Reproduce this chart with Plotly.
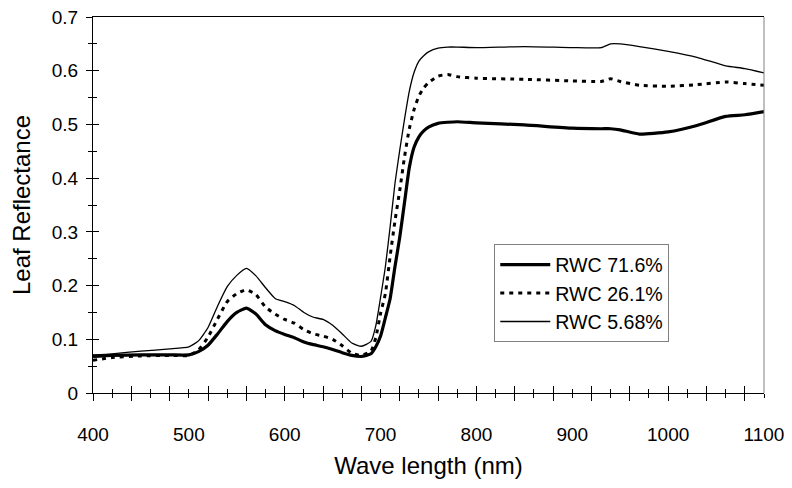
import plotly.graph_objects as go

wavelength = [400, 420, 450, 480, 500, 510, 520, 530, 540, 550, 560, 570, 580, 590, 600,
              610, 620, 630, 640, 650, 660, 670, 680, 690, 695, 700, 705, 710, 715, 720,
              725, 730, 735, 740, 745, 750, 760, 770, 780, 800, 850, 900, 930, 940, 950,
              970, 1000, 1030, 1060, 1080, 1100]

rwc_71_6 = [0.068, 0.070, 0.071, 0.071, 0.071, 0.077, 0.089, 0.110, 0.133, 0.150, 0.158,
            0.147, 0.127, 0.116, 0.109, 0.103, 0.095, 0.090, 0.086, 0.081, 0.075, 0.070,
            0.068, 0.073, 0.086, 0.106, 0.140, 0.176, 0.235, 0.290, 0.355, 0.420, 0.458,
            0.477, 0.488, 0.495, 0.502, 0.504, 0.505, 0.503, 0.499, 0.493, 0.492, 0.492,
            0.490, 0.482, 0.486, 0.498, 0.515, 0.518, 0.524]

rwc_26_1 = [0.061, 0.066, 0.069, 0.070, 0.070, 0.080, 0.104, 0.138, 0.170, 0.185, 0.192,
            0.183, 0.160, 0.147, 0.137, 0.130, 0.118, 0.110, 0.106, 0.100, 0.088, 0.074,
            0.070, 0.078, 0.103, 0.148, 0.185, 0.255, 0.320, 0.377, 0.440, 0.492, 0.528,
            0.553, 0.568, 0.578, 0.590, 0.593, 0.589, 0.586, 0.584, 0.581, 0.580, 0.585,
            0.580, 0.573, 0.571, 0.574, 0.579, 0.576, 0.573]

rwc_5_68 = [0.071, 0.073, 0.078, 0.082, 0.086, 0.097, 0.122, 0.162, 0.198, 0.219, 0.232,
            0.218, 0.196, 0.176, 0.170, 0.163, 0.150, 0.141, 0.137, 0.126, 0.110, 0.093,
            0.087, 0.096, 0.125, 0.178, 0.235, 0.310, 0.390, 0.452, 0.510, 0.562, 0.597,
            0.618, 0.628, 0.635, 0.642, 0.644, 0.644, 0.643, 0.645, 0.643, 0.643, 0.650,
            0.650, 0.645, 0.636, 0.625, 0.609, 0.604, 0.596]

series_names = ["RWC 71.6%", "RWC 26.1%", "RWC 5.68%"]

x_label_vals = list(range(400, 1101, 100))
x_long_ticks = list(range(400, 1101, 40))
x_short_ticks = list(range(420, 1101, 40))
y_label_vals = [0, 0.1, 0.2, 0.3, 0.4, 0.5, 0.6, 0.7]
y_label_text = ["0", "0.1", "0.2", "0.3", "0.4", "0.5", "0.6", "0.7"]
y_minor_vals = [0.05, 0.15, 0.25, 0.35, 0.45, 0.55, 0.65]

fig = go.Figure()
fig.add_trace(go.Scatter(x=wavelength, y=rwc_71_6, name=series_names[0], mode="lines",
                         line=dict(color="black", width=3.2, shape="spline", smoothing=0.5)))
fig.add_trace(go.Scatter(x=wavelength, y=rwc_26_1, name=series_names[1], mode="lines",
                         line=dict(color="black", width=3, dash="4px,5px", shape="spline", smoothing=0.5)))
fig.add_trace(go.Scatter(x=wavelength, y=rwc_5_68, name=series_names[2], mode="lines",
                         line=dict(color="black", width=1.3, shape="spline", smoothing=0.5)))

# empty helper traces so the overlaid tick-only axes get rendered (crossing ticks)
for xa, ya in [("x2", "y"), ("x3", "y"), ("x", "y2")]:
    fig.add_trace(go.Scatter(x=[], y=[], xaxis=xa, yaxis=ya, showlegend=False,
                             hoverinfo="skip", mode="lines"))

font_family = "Liberation Sans, Arial, sans-serif"

tick_axis_common = dict(showticklabels=False, showline=False, showgrid=False,
                        zeroline=False, tickcolor="black", tickwidth=1, automargin=False)

# page body has an 8px margin, so the figure is 8px smaller and margins shifted
fig.update_layout(
    width=784, height=480,
    margin=dict(l=85, r=28, t=9, b=95, autoexpand=False),
    paper_bgcolor="white", plot_bgcolor="white",
    font=dict(family=font_family, size=19, color="black"),
    showlegend=True,
    legend=dict(x=0.598, y=0.3955, xanchor="left", yanchor="top",
                bgcolor="white", bordercolor="#808080", borderwidth=1,
                font=dict(size=19.6, family=font_family), itemwidth=50,
                tracegroupgap=0),
    xaxis=dict(range=[400, 1100], tickmode="array", tickvals=x_label_vals,
               ticks="", showline=True, linecolor="black", linewidth=1, mirror=True,
               showgrid=False, zeroline=False, ticklabelstandoff=24, automargin=False,
               ticklabeloverflow="allow",
               title=dict(text="Wave length (nm)", font=dict(size=24), standoff=13)),
    xaxis2=dict(range=[400, 1100], overlaying="x", anchor="y", side="bottom",
                tickmode="array", tickvals=x_long_ticks, ticks="outside", ticklen=7,
                minor=dict(tickmode="array", tickvals=x_short_ticks, ticks="outside",
                           ticklen=4, tickcolor="black", tickwidth=1, showgrid=False),
                **tick_axis_common),
    xaxis3=dict(range=[400, 1100], overlaying="x", anchor="y", side="bottom",
                tickmode="array", tickvals=x_long_ticks, ticks="inside", ticklen=7,
                minor=dict(tickmode="array", tickvals=x_short_ticks, ticks="inside",
                           ticklen=4, tickcolor="black", tickwidth=1, showgrid=False),
                **tick_axis_common),
    yaxis=dict(range=[0, 0.7], tickmode="array", tickvals=y_label_vals, ticktext=y_label_text,
               ticks="outside", ticklen=6, tickcolor="black", tickwidth=1,
               showline=True, linecolor="black", linewidth=1, showgrid=False, zeroline=False,
               automargin=False, ticklabelstandoff=4, ticklabeloverflow="allow",
               minor=dict(tickmode="array", tickvals=y_minor_vals, ticks="outside",
                          ticklen=4, tickcolor="black", tickwidth=1, showgrid=False),
               title=dict(text="Leaf Reflectance", font=dict(size=24), standoff=16)),
    yaxis2=dict(range=[0, 0.7], overlaying="y", anchor="x", side="left",
                tickmode="array", tickvals=y_label_vals, ticks="inside", ticklen=6,
                minor=dict(tickmode="array", tickvals=y_minor_vals, ticks="inside",
                           ticklen=4, tickcolor="black", tickwidth=1, showgrid=False),
                **tick_axis_common),
    shapes=[
        dict(type="line", xref="paper", yref="paper", x0=1, x1=1, y0=0, y1=1,
             line=dict(color="#808080", width=1)),
    ],
)

fig.write_html("out.html")
